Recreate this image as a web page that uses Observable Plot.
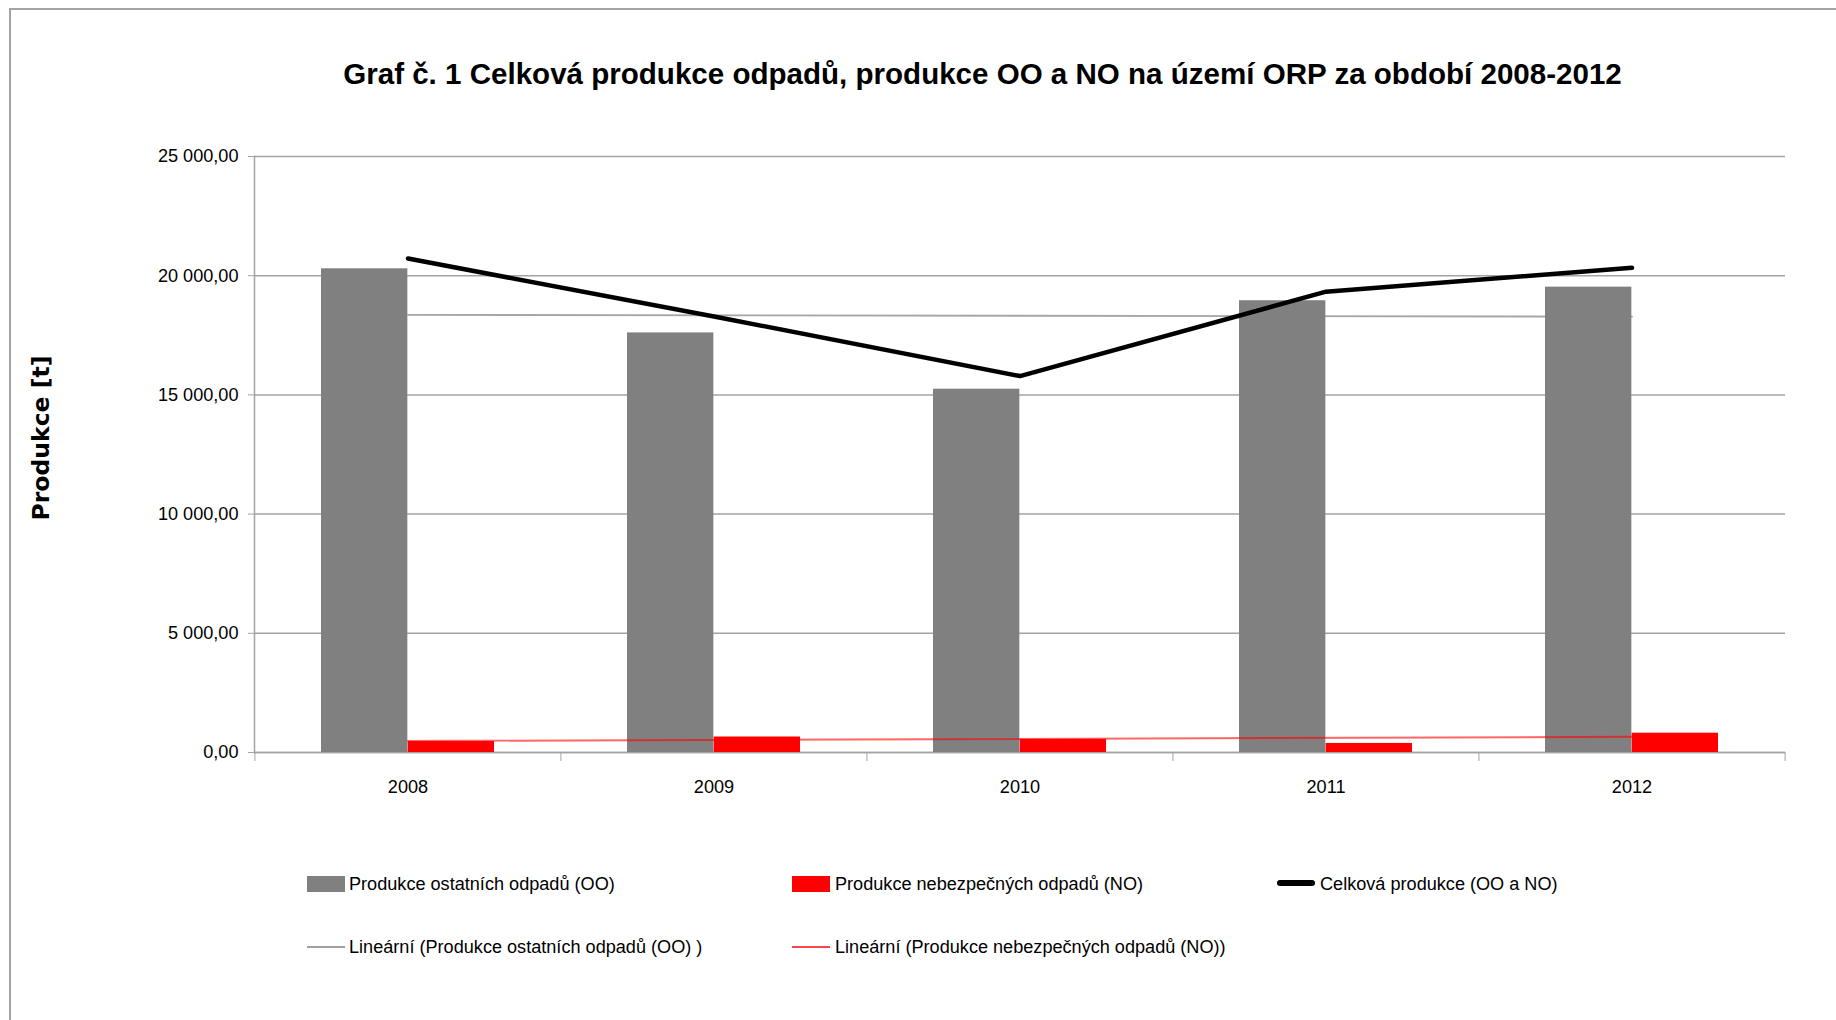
<!DOCTYPE html>
<html lang="cs">
<head>
<meta charset="utf-8">
<script src="https://cdn.jsdelivr.net/npm/d3@7"></script>
<script src="https://cdn.jsdelivr.net/npm/@observablehq/plot@0.6"></script>
<style>
  html, body { margin: 0; padding: 0; background: #fff; }
  #page { position: relative; width: 1836px; height: 1020px; overflow: hidden; background: #fff; color: #000; }
  #frame { position: absolute; left: 9px; top: 8px; right: -10px; bottom: -10px; z-index: 5; pointer-events: none;
           border-top: 2px solid #a3a3a3; border-left: 2px solid #a3a3a3; }
  #title { position: absolute; left: 343px; width: 1279px; text-align: center; font-weight: bold; white-space: nowrap; }
  #ylabel { position: absolute; left: 41px; top: 438px; transform: translate(-50%, -50%) rotate(-90deg);
            font-family: "DejaVu Sans", Verdana, sans-serif; font-weight: bold; font-size: 23.5px; white-space: nowrap; }
  #chart { position: absolute; left: 0; top: 120px; }
  .lg-text { position: absolute; white-space: nowrap; }
  .lg-sw { position: absolute; }
</style>
</head>
<body>
<div id="page">
  <div id="title">Graf č. 1 Celková produkce odpadů, produkce OO a NO na území ORP za období 2008-2012</div>
  <div id="ylabel">Produkce [t]</div>
  <div id="chart"></div>
  <div id="legend"></div>
  <div id="frame"></div>
</div>
<script>
// ---- data ----
const years = [2008, 2009, 2010, 2011, 2012];
const ooValues = [20290, 17600, 15240, 18950, 19520];     // Produkce ostatních odpadů (OO)
const noValues = [460, 650, 550, 380, 810];               // Produkce nebezpečných odpadů (NO)
const totalValues = [20720, 18290, 15790, 19330, 20330];  // Celková produkce (OO a NO)
const yTicks = [0, 5000, 10000, 15000, 20000, 25000];
const seriesNames = [
  "Produkce ostatních odpadů (OO)",
  "Produkce nebezpečných odpadů (NO)",
  "Celková produkce (OO a NO)",
  "Lineární (Produkce ostatních odpadů (OO) )",
  "Lineární (Produkce nebezpečných odpadů (NO))"
];

const data = years.map((year, i) => ({year, oo: ooValues[i], no: noValues[i], total: totalValues[i]}));

// ---- font choice: a narrow face if the machine has one, else Liberation Sans ----
function textWidth(txt, family, weight) {
  const s = document.createElement("span");
  s.style.cssText = `position:absolute;visibility:hidden;white-space:nowrap;font-size:100px;font-family:${family};font-weight:${weight}`;
  s.textContent = txt;
  document.body.appendChild(s);
  const w = s.getBoundingClientRect().width;
  s.remove();
  return w;
}
const titleText = document.getElementById("title").textContent;
const narrow = '"Liberation Sans Narrow", "Arial Narrow"';
const regular = '"Liberation Sans", Arial';
const family = textWidth(seriesNames[0], narrow + ", monospace", 400) < 0.9 * textWidth(seriesNames[0], regular, 400)
  ? narrow + ", sans-serif" : regular + ", sans-serif";
const fs = Math.min(22, 100 * 266 / textWidth(seriesNames[0], family, 400));
const tfs = Math.min(40, 100 * 1279 / textWidth(titleText, family, 700));

const title = document.getElementById("title");
title.style.fontFamily = family;
title.style.fontSize = tfs + "px";
title.style.lineHeight = tfs + "px";
title.style.top = (84 - 0.8465 * tfs) + "px";

// ---- layout ----
const W = 1836, H = 700;
const mL = 254, mR = 51, mT = 36, mB = 68;
const pIn = 0.434, pOut = pIn / 2;
const step = (W - mL - mR) / years.length;
const bw = step * (1 - pIn);
const gray = "#a3a3a3";

const cz = d3.formatLocale({decimal: ",", thousands: "\u00a0", grouping: [3], currency: ["", ""]});
const fmt = cz.format(",.2f");

const chart = Plot.plot({
  width: W, height: H,
  marginLeft: mL, marginRight: mR, marginTop: mT, marginBottom: mB,
  style: {fontFamily: family, fontSize: fs + "px", color: "#000", background: "transparent", overflow: "visible"},
  x: {type: "band", domain: years, paddingInner: pIn, paddingOuter: pOut, axis: null},
  y: {domain: [0, 25000], axis: null},
  marks: [
    Plot.gridY(yTicks, {stroke: gray, strokeOpacity: 1, strokeWidth: 1.5}),
    Plot.frame({anchor: "left", stroke: gray, strokeWidth: 1.5}),
    Plot.ruleY([0], {stroke: gray, strokeWidth: 1.5}),
    Plot.barY(data, {x: "year", y: "oo", fill: "#808080", insetRight: bw / 2, insetLeft: 0}),
    Plot.barY(data, {x: "year", y: "no", fill: "#ff0000", insetLeft: bw / 2, insetRight: 0}),
    Plot.linearRegressionY(data, {x: "year", y: "oo", stroke: "#808080", strokeOpacity: 0.7, strokeWidth: 1.8, ci: 0}),
    Plot.linearRegressionY(data, {x: "year", y: "no", stroke: "#ff0000", strokeOpacity: 0.6, strokeWidth: 2, ci: 0}),
    Plot.lineY(data, {x: "year", y: "total", stroke: "#000", strokeWidth: 4.5, strokeLinecap: "round", strokeLinejoin: "round"}),
    Plot.axisY(yTicks, {tickSize: 6, tickPadding: 10, tickFormat: fmt, stroke: gray, fill: "#000", label: null}),
    Plot.axisX(years, {tickSize: 9, tickFormat: () => "", dx: -step / 2, stroke: gray, label: null}),
    Plot.axisX([years[years.length - 1]], {tickSize: 9, tickFormat: () => "", dx: step / 2, stroke: gray, label: null}),
    Plot.axisX(years, {tickSize: 0, tickPadding: 28, tickFormat: d => String(d), fill: "#000", label: null})
  ]
});
document.getElementById("chart").appendChild(chart);

// ---- legend ----
const legend = document.getElementById("legend");
const items = [
  {name: seriesNames[0], sx: 307, tx: 349, row: 0, sw: {top: 876, h: 16, bg: "#808080"}},
  {name: seriesNames[1], sx: 792, tx: 835, row: 0, sw: {top: 876, h: 16, bg: "#ff0000"}},
  {name: seriesNames[2], sx: 1277, tx: 1320, row: 0, sw: {top: 880, h: 6, bg: "#000", r: 3}},
  {name: seriesNames[3], sx: 307, tx: 349, row: 1, sw: {top: 946, h: 2, bg: "#a0a0a0"}},
  {name: seriesNames[4], sx: 792, tx: 835, row: 1, sw: {top: 946, h: 2, bg: "#ff4545"}}
];
const rowBaseline = [890, 953];
for (const it of items) {
  const s = document.createElement("div");
  s.className = "lg-sw";
  s.style.left = it.sx + "px";
  s.style.top = it.sw.top + "px";
  s.style.width = "38px";
  s.style.height = it.sw.h + "px";
  s.style.background = it.sw.bg;
  if (it.sw.r) s.style.borderRadius = it.sw.r + "px";
  legend.appendChild(s);
  const t = document.createElement("div");
  t.className = "lg-text";
  t.style.fontFamily = family;
  t.style.fontSize = fs + "px";
  t.style.lineHeight = fs + "px";
  t.style.left = it.tx + "px";
  t.style.top = (rowBaseline[it.row] - 0.8465 * fs) + "px";
  t.textContent = it.name;
  legend.appendChild(t);
}
</script>
</body>
</html>
